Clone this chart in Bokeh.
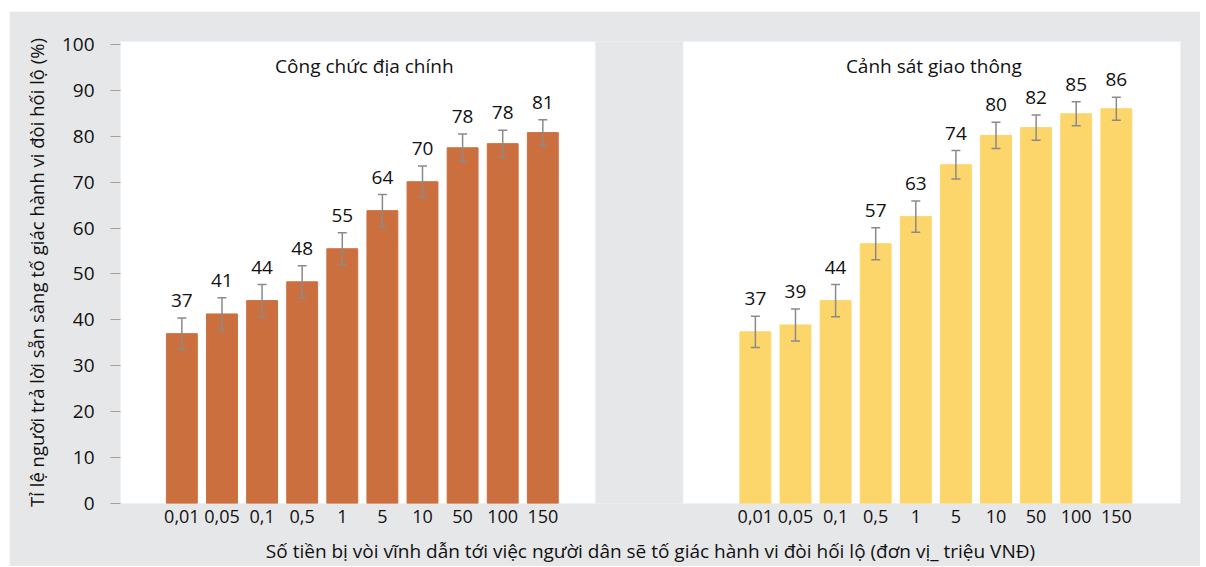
from bokeh.plotting import figure
from bokeh.models import (ColumnDataSource, Whisker, TeeHead, FixedTicker, BoxAnnotation,
                          Label, Range1d)
from bokeh.core.properties import value
from bokeh.embed import file_html
from bokeh.resources import INLINE

# ---- data ----
categories = ["0,01", "0,05", "0,1", "0,5", "1", "5", "10", "50", "100", "150"]
left_title = "Công chức địa chính"
right_title = "Cảnh sát giao thông"
left_values = [37.0, 41.3, 44.2, 48.3, 55.5, 63.8, 70.1, 77.5, 78.4, 80.8]
left_errors = [3.4, 3.5, 3.5, 3.5, 3.5, 3.5, 3.4, 3.0, 2.9, 2.8]
left_labels = ["37", "41", "44", "48", "55", "64", "70", "78", "78", "81"]
right_values = [37.4, 38.9, 44.2, 56.6, 62.5, 73.8, 80.2, 81.9, 84.9, 86.0]
right_errors = [3.4, 3.5, 3.5, 3.5, 3.4, 3.1, 2.85, 2.75, 2.6, 2.5]
right_labels = ["37", "39", "44", "57", "63", "74", "80", "82", "85", "86"]
y_ticks = [0, 10, 20, 30, 40, 50, 60, 70, 80, 90, 100]
y_title = "Tỉ lệ người trả lời sẵn sàng tố giác hành vi đòi hối lộ (%)"
x_title = "Số tiền bị vòi vĩnh dẫn tới việc người dân sẽ tố giác hành vi đòi hối lộ (đơn vị_ triệu VNĐ)"

# ---- layout constants ----
OFFSET = 14.3
FONT = "Open Sans"
TXT = "#111111"
GRAY_BG = "#e6e7e8"
ORANGE = "#cc6f3f"
YELLOW = "#fdd66b"
ERR = "#8a8a8a"
LABEL_GAP = 3.8

xl = [float(i) for i in range(len(categories))]
xr = [i + OFFSET for i in xl]

def make_src(xs, vals, errs, labels):
    return ColumnDataSource(dict(
        x=xs, value=vals,
        lower=[v - e for v, e in zip(vals, errs)],
        upper=[v + e for v, e in zip(vals, errs)],
        ly=[v + e + LABEL_GAP for v, e in zip(vals, errs)],
        label=labels,
    ))

src_l = make_src(xl, left_values, left_errors, left_labels)
src_r = make_src(xr, right_values, right_errors, right_labels)

p = figure(frame_width=1060, frame_height=462, output_backend="svg", toolbar_location=None,
           x_range=Range1d(-1.53, 24.9), y_range=Range1d(0, 100.65),
           min_border_left=111, min_border_right=20, min_border_top=30, min_border_bottom=62,
           margin=(11, 0, 0, 9))
p.background_fill_color = GRAY_BG
p.border_fill_color = GRAY_BG
p.outline_line_color = None
p.grid.visible = False

p.add_layout(BoxAnnotation(right=10.31, fill_color="white", fill_alpha=1.0, line_color=None, level="underlay"))
p.add_layout(BoxAnnotation(left=12.5, fill_color="white", fill_alpha=1.0, line_color=None, level="underlay"))

p.vbar(x="x", top="value", width=0.77, source=src_l, color=ORANGE)
p.vbar(x="x", top="value", width=0.77, source=src_r, color=YELLOW)

for src in (src_l, src_r):
    w = Whisker(base="x", upper="upper", lower="lower", source=src, level="annotation",
                line_color=ERR, line_width=1.5,
                upper_head=TeeHead(size=9, line_color=ERR, line_width=1.5),
                lower_head=TeeHead(size=9, line_color=ERR, line_width=1.5))
    p.add_layout(w)
    p.text(x="x", y="ly", text="label", source=src, text_align="center",
           text_baseline="middle", text_font=value(FONT), text_font_size="19px",
           text_color=TXT)

for t, xc in ((left_title, 4.55), (right_title, 4.45 + OFFSET)):
    p.add_layout(Label(x=xc, y=95.4, text=t, text_align="center", text_baseline="middle",
                       text_font=FONT, text_font_size="19px", text_color=TXT))

# y axis
p.yaxis.ticker = FixedTicker(ticks=y_ticks)
p.yaxis.axis_line_color = None
p.yaxis.major_tick_line_color = "#a0a0a0"
p.yaxis.major_tick_out = 10
p.yaxis.major_tick_in = 0
p.yaxis.minor_tick_line_color = None
p.yaxis.major_label_standoff = 16
p.yaxis.major_label_text_font = FONT
p.yaxis.major_label_text_font_size = "19px"
p.yaxis.major_label_text_color = TXT
p.yaxis.axis_label = y_title
p.yaxis.axis_label_text_font = FONT
p.yaxis.axis_label_text_font_size = "18.5px"
p.yaxis.axis_label_text_font_style = "normal"
p.yaxis.axis_label_text_color = TXT
p.yaxis.axis_label_standoff = 10

# x axis
all_x = xl + xr
p.xaxis.ticker = FixedTicker(ticks=all_x)
p.xaxis.major_label_overrides = {x: c for x, c in zip(all_x, categories + categories)}
p.xaxis.axis_line_color = None
p.xaxis.major_tick_line_color = None
p.xaxis.minor_tick_line_color = None
p.xaxis.major_label_standoff = 0
p.xaxis.major_label_text_font = FONT
p.xaxis.major_label_text_font_size = "18px"
p.xaxis.major_label_text_color = TXT
p.xaxis.axis_label = x_title
p.xaxis.axis_label_text_font = FONT
p.xaxis.axis_label_text_font_size = "19px"
p.xaxis.axis_label_text_font_style = "normal"
p.xaxis.axis_label_text_color = TXT
p.xaxis.axis_label_standoff = 12

open("out.html", "w").write(file_html(p, INLINE))
